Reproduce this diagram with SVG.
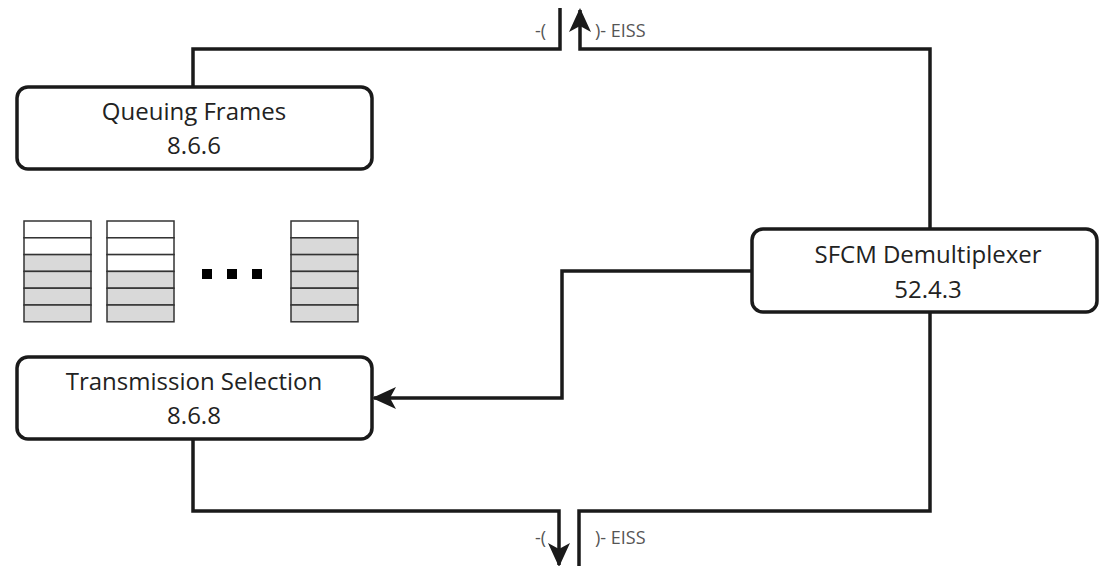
<svg xmlns="http://www.w3.org/2000/svg" width="1101" height="566" viewBox="0 0 1101 566">
<defs>
<style>
.box{fill:#fff;stroke:#1a1a1a;stroke-width:3.5}
.t{font-family:"Open Sans","Noto Sans",sans-serif;font-size:24px;fill:#222;text-anchor:middle}
.s{font-family:"Open Sans","Noto Sans",sans-serif;font-size:18px;fill:#555}
.c{fill:none;stroke:#1a1a1a;stroke-width:3.5}
.q{stroke:#333;stroke-width:1.5}
.w{fill:#fff}
.g{fill:#d9d9d9}
</style>
<marker id="ah" viewBox="0 0 24 22" refX="22" refY="11" markerWidth="24" markerHeight="22" markerUnits="userSpaceOnUse" orient="auto">
<path d="M0,0 L24,11 L0,22 L6,11 Z" fill="#1a1a1a"/>
</marker>
</defs>
<rect width="1101" height="566" fill="#fff"/>
<g id="connectors">
<path class="c" d="M193,87 V49 H560 V8"/>
<path class="c" d="M930,229 V49 H580 V10" marker-end="url(#ah)"/>
<path class="c" d="M752,271 H562 V398 H374" marker-end="url(#ah)"/>
<path class="c" d="M193,439 V511 H559 V565" marker-end="url(#ah)"/>
<path class="c" d="M930,312 V511 H579 V566"/>
</g>
<g id="queuing-frames">
<rect class="box" x="17" y="87" width="355" height="82" rx="11"/>
<text class="t" x="194" y="120">Queuing Frames</text>
<text class="t" x="194" y="154">8.6.6</text>
</g>
<g id="transmission-selection">
<rect class="box" x="17" y="357" width="355" height="82" rx="11"/>
<text class="t" x="194" y="390">Transmission Selection</text>
<text class="t" x="194" y="424">8.6.8</text>
</g>
<g id="sfcm-demultiplexer">
<rect class="box" x="752" y="229" width="345" height="83" rx="11"/>
<text class="t" x="928" y="263">SFCM Demultiplexer</text>
<text class="t" x="928" y="298">52.4.3</text>
</g>
<g id="queues">
<g class="q">
<rect class="w" x="24" y="221" width="67" height="16.8"/>
<rect class="w" x="24" y="237.8" width="67" height="16.8"/>
<rect class="g" x="24" y="254.6" width="67" height="16.8"/>
<rect class="g" x="24" y="271.4" width="67" height="16.8"/>
<rect class="g" x="24" y="288.2" width="67" height="16.8"/>
<rect class="g" x="24" y="305" width="67" height="16.8"/>
<rect class="w" x="107" y="221" width="67" height="16.8"/>
<rect class="w" x="107" y="237.8" width="67" height="16.8"/>
<rect class="w" x="107" y="254.6" width="67" height="16.8"/>
<rect class="g" x="107" y="271.4" width="67" height="16.8"/>
<rect class="g" x="107" y="288.2" width="67" height="16.8"/>
<rect class="g" x="107" y="305" width="67" height="16.8"/>
<rect class="w" x="291" y="221" width="67" height="16.8"/>
<rect class="g" x="291" y="237.8" width="67" height="16.8"/>
<rect class="g" x="291" y="254.6" width="67" height="16.8"/>
<rect class="g" x="291" y="271.4" width="67" height="16.8"/>
<rect class="g" x="291" y="288.2" width="67" height="16.8"/>
<rect class="g" x="291" y="305" width="67" height="16.8"/>
</g>
<rect x="202" y="269" width="10" height="10" fill="#000"/>
<rect x="227" y="269" width="10" height="10" fill="#000"/>
<rect x="252" y="269" width="10" height="10" fill="#000"/>
</g>
<g id="labels">
<text class="s" x="535" y="37">-(</text>
<text class="s" x="595" y="37">)- EISS</text>
<text class="s" x="535" y="544">-(</text>
<text class="s" x="595" y="544">)- EISS</text>
</g>
</svg>
